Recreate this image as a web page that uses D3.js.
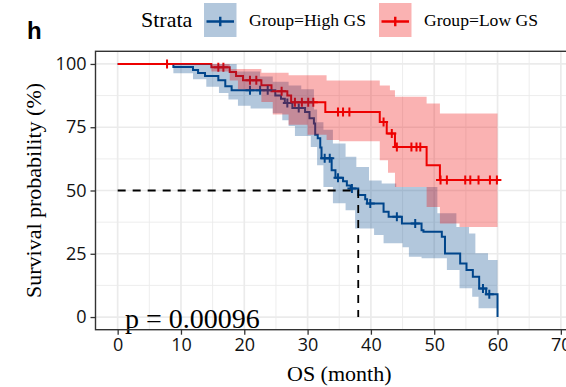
<!DOCTYPE html>
<html>
<head>
<meta charset="utf-8">
<script src="https://cdn.jsdelivr.net/npm/d3@7"></script>
<style>
  html, body { margin: 0; padding: 0; background: #fff; }
  svg { display: block; }
</style>
</head>
<body>
<svg id="chart" width="566" height="387"></svg>
<script>
// Kaplan–Meier overall survival by gene-signature group

const groups = ["Group=High GS", "Group=Low GS"];
const groupColors = ["#00468B", "#ED0000"];

// Step curves: time (months) at which survival changes, survival (%) from then on
const highTime = [0, 8.8, 11.9, 12.7, 13.8, 15.9, 17, 18, 24.9, 25.8, 26.4, 27.6, 29.6, 30.3, 31, 31.2, 31.6, 32, 32.2,
  33.8, 34.4, 35.6, 36.2, 36.8, 38, 39.1, 39.4, 42, 42.8, 44.9, 48, 48.3, 51.2, 51.7, 54.1, 55.1, 56.1, 57.1, 58.2, 60];
const highSurv = [100, 98.8, 97.6, 96.4, 95.2, 93.6, 91.2, 89.6, 87.5, 86.3, 84.6, 82.6, 81, 78.5, 76.5, 72, 70.6, 67, 62.7,
  58, 55, 53.7, 52, 50.8, 48.2, 46.5, 44.9, 41.6, 39.6, 37, 34.3, 33.7, 31.7, 25.1, 21.2, 18.6, 15.9, 11.3, 9.0, 0];

const lowTime = [0, 14.8, 17.7, 18.7, 19.8, 22.7, 24.3, 26.8, 27.4, 32.8, 41.4, 42.5, 43.8, 48.8, 50.9];
const lowSurv = [100, 98.7, 96.8, 95.2, 93.6, 91.6, 89.2, 87.5, 84.9, 81, 77.1, 72.5, 67.2, 60, 54.1];

// Last follow-up time of each group
const followUpEnd = [60, 60];

// 95% confidence bands (step knots)
const highBandTime  = [0, 8.8, 11.9, 14, 16, 17.5, 18.8, 19, 21, 22.5, 24.5, 26, 27, 28, 29, 30.5, 31, 31.5, 32.5, 34, 36,
  37.5, 37.7, 39.7, 40.5, 41.7, 42, 44, 45, 46, 48, 50.5, 52, 53.5, 54, 55.5, 56, 56.5, 57, 58.5, 60];
const highBandLower = [100, 96.3, 94, 91, 88.5, 86, 86, 83.5, 82.4, 82.4, 80.5, 77.8, 75.5, 71.5, 71.5, 67.2, 67.2, 60, 51.4, 45, 42.2,
  35, 35, 35, 32.4, 32.4, 29.2, 29.2, 27.6, 23.8, 23.2, 23.2, 18.6, 18.6, 11.4, 11.4, 8, 8, 3.5, 3.5, 3.5];
const highBandUpper = [100, 100, 100, 100, 100, 100, 97, 97, 97, 95, 93, 93, 91.5, 91.5, 90, 90, 82, 77, 74, 68.6, 63.3,
  63.3, 59.3, 54, 54, 52.8, 52.8, 51.4, 51.4, 51.4, 51.4, 41, 41, 35.6, 35.6, 33, 33, 25.2, 25.2, 22.5, 22.5];

const lowBandTime  = [0, 14.8, 17.7, 19, 22.7, 24.5, 27, 30, 33, 35, 41.4, 42.7, 43, 43.8, 48.8, 50.9, 54, 60];
const lowBandLower = [100, 97, 93.5, 90, 85, 80, 76, 72, 70, 69.5, 62, 57, 57, 51.4, 43.5, 37, 35.6, 35.6];
const lowBandUpper = [100, 100, 98, 98, 96.5, 96.5, 95.5, 95.5, 93.5, 93.5, 91.5, 91.5, 89.6, 87, 84.4, 80.4, 80.4, 80.4];

// Censoring times (months)
const highCensor = [20.9, 22.5, 23.7, 26.8, 28.6, 32.7, 33.5, 34.8, 37.0, 39.9, 44.1, 47.0, 57.7, 58.7];
const lowCensor = [7.8, 15.9, 16.7, 20.9, 21.9, 25.9, 28.0, 29.1, 30.1, 30.9, 34.8, 35.6, 36.6, 42.0, 43.3, 44.1,
  46.4, 47.2, 47.8, 51.0, 52.0, 54.9, 55.7, 57.0, 58.8, 59.9];

const xTicks = [0, 10, 20, 30, 40, 50, 60, 70];
const xMinor = [5, 15, 25, 35, 45, 55, 65];
const yTicks = [0, 25, 50, 75, 100];
const yMinor = [12.5, 37.5, 62.5, 87.5];
const pValueLabel = "p = 0.00096";
const panelTag = "h";

const svg = d3.select("#chart");
const serif = "'Liberation Serif', 'Times New Roman', serif";
const sans = "'Open Sans', 'Liberation Sans', sans-serif";

const x = d3.scaleLinear().domain([-3.5, 73.5]).range([95.5, 583]);
const y = d3.scaleLinear().domain([-5, 105]).range([329.7, 51.3]);

const [px0, px1] = x.range();
const [py1, py0] = y.range();

// panel + grid
const panel = svg.append("g");
panel.append("rect").attr("x", px0).attr("y", py0).attr("width", px1 - px0).attr("height", py1 - py0).attr("fill", "#fff");
const grid = panel.append("g").attr("stroke", "#EBEBEB").attr("fill", "none");
grid.selectAll(".xm").data(xMinor).join("line")
  .attr("x1", d => x(d)).attr("x2", d => x(d)).attr("y1", py0).attr("y2", py1).attr("stroke-width", 0.9);
grid.selectAll(".ym").data(yMinor).join("line")
  .attr("y1", d => y(d)).attr("y2", d => y(d)).attr("x1", px0).attr("x2", px1).attr("stroke-width", 0.9);
grid.selectAll(".xM").data(xTicks).join("line")
  .attr("x1", d => x(d)).attr("x2", d => x(d)).attr("y1", py0).attr("y2", py1).attr("stroke-width", 1.7);
grid.selectAll(".yM").data(yTicks).join("line")
  .attr("y1", d => y(d)).attr("y2", d => y(d)).attr("x1", px0).attr("x2", px1).attr("stroke-width", 1.7);

// helpers
const zip = (t, v) => t.map((d, i) => [d, v[i]]);
const survAt = (times, surv, t) => {
  let s = surv[0];
  for (let i = 0; i < times.length; i++) if (times[i] <= t) s = surv[i];
  return s;
};

const stepLine = d3.line().curve(d3.curveStepAfter).x(d => x(d[0])).y(d => y(d[1]));
const stepArea = d3.area().curve(d3.curveStepAfter)
  .x(d => x(d.t)).y0(d => y(d.lo)).y1(d => y(d.hi));

const curves = [
  { time: highTime, surv: highSurv, end: followUpEnd[0], censor: highCensor,
    band: highBandTime.map((t, i) => ({ t, lo: highBandLower[i], hi: highBandUpper[i] })) },
  { time: lowTime, surv: lowSurv, end: followUpEnd[1], censor: lowCensor,
    band: lowBandTime.map((t, i) => ({ t, lo: lowBandLower[i], hi: lowBandUpper[i] })) }
];

const plot = svg.append("g");

// survival steps
curves.forEach((c, gi) => {
  const pts = zip(c.time, c.surv);
  const last = pts[pts.length - 1];
  if (last[0] < c.end) pts.push([c.end, last[1]]);
  plot.append("path").attr("d", stepLine(pts))
    .attr("fill", "none").attr("stroke", groupColors[gi]).attr("stroke-width", 2);
});

// censor marks
const plusPath = (cx, cy, r) => `M${cx - r},${cy}H${cx + r}M${cx},${cy - r}V${cy + r}`;
curves.forEach((c, gi) => {
  plot.append("g").selectAll("path").data(c.censor).join("path")
    .attr("d", t => plusPath(x(t), y(survAt(c.time, c.surv, t)), 4.5))
    .attr("fill", "none").attr("stroke", groupColors[gi]).attr("stroke-width", 2);
});

// confidence bands
curves.forEach((c, gi) => {
  plot.append("path").attr("d", stepArea(c.band))
    .attr("fill", groupColors[gi]).attr("fill-opacity", 0.3).attr("stroke", "none");
});

// median survival guide lines
curves.forEach(c => {
  const i = c.surv.findIndex(s => s <= 50);
  if (i < 0) return;
  const med = c.time[i];
  plot.append("path")
    .attr("d", `M${x(0)},${y(50)}H${x(med)}V${y(0)}`)
    .attr("fill", "none").attr("stroke", "#000").attr("stroke-width", 1.8)
    .attr("stroke-dasharray", "8,7");
});

// p-value
svg.append("text").attr("x", 125).attr("y", 327.5)
  .attr("font-family", serif).attr("font-size", 28).attr("fill", "#000").text(pValueLabel);

// panel border
svg.append("rect").attr("x", px0).attr("y", py0).attr("width", px1 - px0).attr("height", py1 - py0)
  .attr("fill", "none").attr("stroke", "#333").attr("stroke-width", 1.4);

// axes
const xAxis = svg.append("g").attr("transform", `translate(0,${py1})`)
  .call(d3.axisBottom(x).tickValues(xTicks).tickSize(5).tickPadding(4));
const yAxis = svg.append("g").attr("transform", `translate(${px0},0)`)
  .call(d3.axisLeft(y).tickValues(yTicks).tickSize(5).tickPadding(4));
[xAxis, yAxis].forEach(a => {
  a.select(".domain").remove();
  a.selectAll(".tick line").attr("stroke", "#333").attr("stroke-width", 1.3);
  a.selectAll(".tick text").attr("font-family", sans).attr("font-size", 18).attr("fill", "#111");
});

// axis titles
svg.append("text").attr("x", (px0 + px1) / 2).attr("y", 381)
  .attr("text-anchor", "middle").attr("font-family", serif).attr("font-size", 22).text("OS (month)");
svg.append("text")
  .attr("transform", `translate(41,${(py0 + py1) / 2}) rotate(-90)`)
  .attr("text-anchor", "middle").attr("font-family", serif).attr("font-size", 22).text("Survival probability (%)");

// panel tag
svg.append("text").attr("x", 27).attr("y", 39)
  .attr("font-family", "'Liberation Sans', Arial, sans-serif").attr("font-weight", "bold").attr("font-size", 24).text(panelTag);

// legend
const legend = svg.append("g");
legend.append("text").attr("x", 141).attr("y", 27)
  .attr("font-family", serif).attr("font-size", 22).text("Strata");
const keyX = [204, 379];
const labelX = [249, 424];
groups.forEach((g, gi) => {
  const kx = keyX[gi], ky = 3, kw = 32.5, kh = 34;
  legend.append("rect").attr("x", kx).attr("y", ky).attr("width", kw).attr("height", kh)
    .attr("fill", groupColors[gi]).attr("fill-opacity", 0.3);
  const cy = ky + kh / 2 + 1.5, cx = kx + kw / 2;
  legend.append("path").attr("d", `M${kx + 2.5},${cy}H${kx + kw - 2.5}M${cx},${cy - 4.7}V${cy + 4.7}`)
    .attr("stroke", groupColors[gi]).attr("stroke-width", 2.4).attr("fill", "none");
  legend.append("text").attr("x", labelX[gi]).attr("y", 25.5)
    .attr("font-family", serif).attr("font-size", 17.6).text(g);
});
</script>
</body>
</html>
